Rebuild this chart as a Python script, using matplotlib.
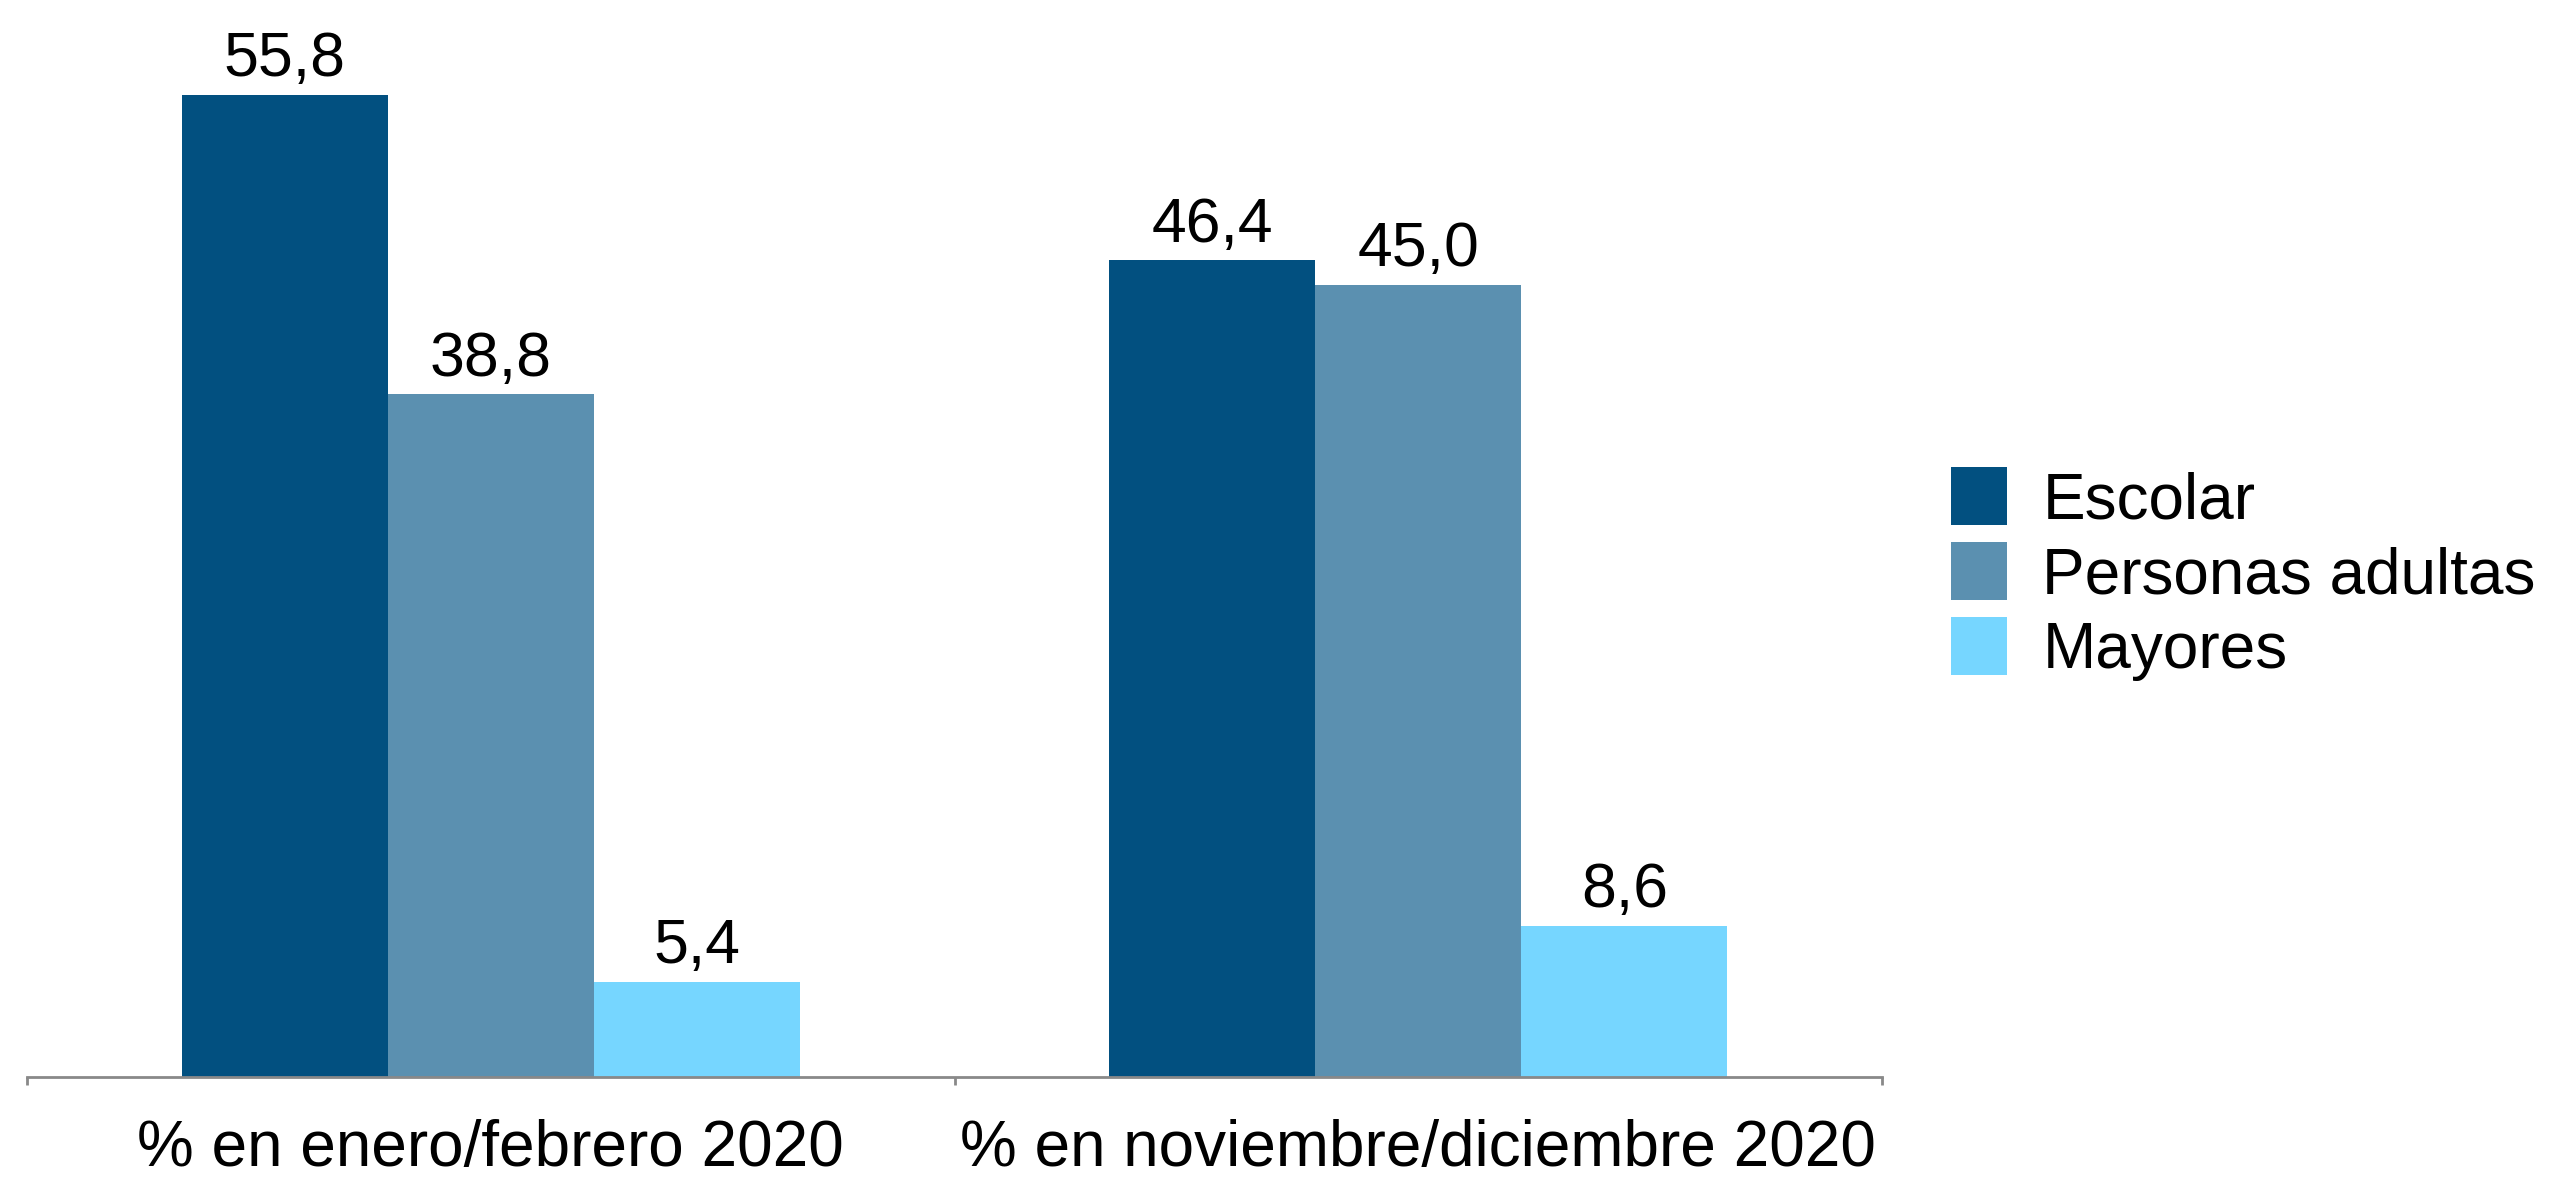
import numpy as np
import matplotlib
matplotlib.use("Agg")
import matplotlib.pyplot as plt

plt.rcParams['font.family'] = ['Liberation Sans', 'DejaVu Sans']

# Data
categories = ['% en enero/febrero 2020', '% en noviembre/diciembre 2020']
series = ['Escolar', 'Personas adultas', 'Mayores']
values = [
    [55.8, 46.4],   # Escolar
    [38.8, 45.0],   # Personas adultas
    [5.4, 8.6],     # Mayores
]
colors = ['#025080', '#5B90B0', '#76D6FF']

fig = plt.figure(figsize=(25.5, 11.79), dpi=100)
ax = fig.add_axes([0.0106, 0.0865, 0.7275, 0.8957])

x = np.arange(len(categories))
width = 0.222
for i, (name, vals) in enumerate(zip(series, values)):
    pos = x + (i - 1) * width
    bars = ax.bar(pos, vals, width, color=colors[i], label=name, zorder=2)
    for b, v in zip(bars, vals):
        ax.annotate(f'{v:.1f}'.replace('.', ','), (b.get_x() + b.get_width() / 2, v),
                    xytext=(0, 4), textcoords='offset points',
                    ha='center', va='bottom', fontsize=45)

ax.set_xlim(-0.5, len(categories) - 0.5)
ax.set_ylim(0, 60)

# category boundaries as ticks, labels on minor ticks
ax.set_xticks(np.arange(-0.5, len(categories), 1.0))
ax.set_xticklabels([])
ax.tick_params(axis='x', which='major', length=6, width=2, color='#898989', direction='out')
ax.set_xticks(x, minor=True)
ax.set_xticklabels(categories, minor=True, fontsize=46)
ax.tick_params(axis='x', which='minor', length=0, pad=30)

ax.set_yticks([])
for s in ['top', 'right', 'left']:
    ax.spines[s].set_visible(False)
ax.spines['bottom'].set_color('#898989')
ax.spines['bottom'].set_linewidth(2)

fig.legend(loc='center left', bbox_to_anchor=(1951 / 2550, 1 - 574 / 1179),
           frameon=False, fontsize=46, borderpad=0, borderaxespad=0,
           handlelength=0.88, handleheight=1.03, handletextpad=0.55,
           labelspacing=0.17)

fig.savefig('out.png', dpi=100)
